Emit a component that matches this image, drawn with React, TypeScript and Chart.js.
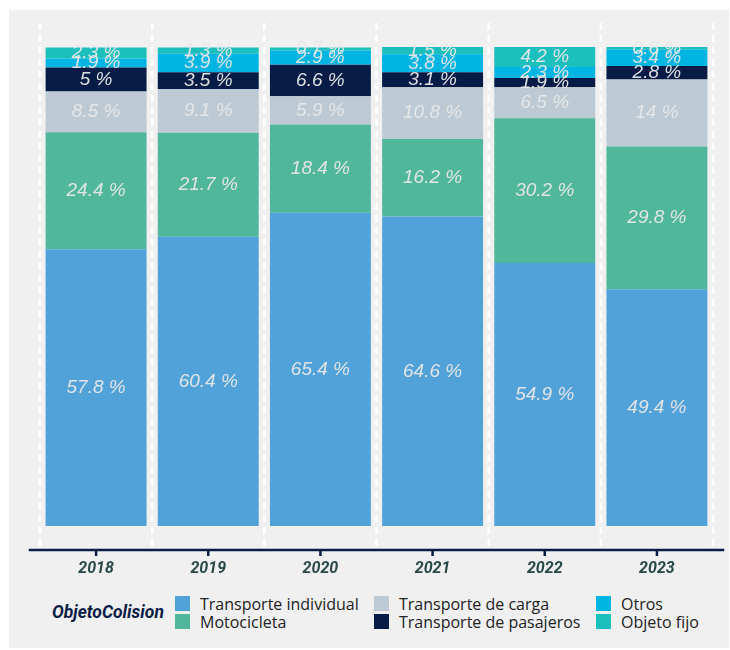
import React, { useEffect, useRef } from "react";
import { Chart, registerables } from "chart.js";

Chart.register(...registerables);

const categories = ["2018", "2019", "2020", "2021", "2022", "2023"];
const seriesNames = [
  "Transporte individual",
  "Motocicleta",
  "Transporte de carga",
  "Transporte de pasajeros",
  "Otros",
  "Objeto fijo",
];
const transporteIndividual = [57.8, 60.4, 65.4, 64.6, 54.9, 49.4];
const motocicleta = [24.4, 21.7, 18.4, 16.2, 30.2, 29.8];
const transporteCarga = [8.5, 9.1, 5.9, 10.8, 6.5, 14];
const transportePasajeros = [5, 3.5, 6.6, 3.1, 1.9, 2.8];
const otros = [1.9, 3.9, 2.9, 3.8, 2.3, 3.4];
const objetoFijo = [2.3, 1.3, 0.7, 1.5, 4.2, 0.6];
const seriesColors = ["#52a2da", "#51b79b", "#bdcad3", "#061c47", "#00b5e1", "#1bbfbc"];
const seriesValues = [transporteIndividual, motocicleta, transporteCarga, transportePasajeros, otros, objetoFijo];

const legendTitle = "ObjetoColision";
const NAVY = "#0b1c48";

const decoPlugin = {
  id: "deco",
  beforeDatasetsDraw(chart: any) {
    const { ctx, chartArea } = chart;
    const xs = chart.scales.x;
    ctx.save();
    ctx.strokeStyle = "#ffffff";
    ctx.lineWidth = 2.5;
    ctx.setLineDash([7, 5]);
    for (let i = 0; i <= categories.length; i++) {
      const x = xs.getPixelForValue(i - 0.5);
      ctx.beginPath();
      ctx.moveTo(x, chartArea.top);
      ctx.lineTo(x, chartArea.bottom);
      ctx.stroke();
    }
    ctx.restore();
  },
  afterDatasetsDraw(chart: any) {
    const { ctx, chartArea } = chart;
    const xs = chart.scales.x;
    ctx.save();
    ctx.font = "italic 19px 'Liberation Sans', Arial, sans-serif";
    ctx.fillStyle = "rgba(232,232,232,0.95)";
    ctx.textAlign = "center";
    ctx.textBaseline = "middle";
    chart.data.datasets.forEach((ds: any, di: number) => {
      const meta = chart.getDatasetMeta(di);
      meta.data.forEach((el: any, i: number) => {
        const v = ds.data[i];
        ctx.fillText(`${v} %`, el.x, (el.y + el.base) / 2);
      });
    });
    const y = chartArea.bottom;
    ctx.strokeStyle = NAVY;
    ctx.lineWidth = 2.5;
    ctx.beginPath();
    ctx.moveTo(xs.getPixelForValue(-0.6), y);
    ctx.lineTo(xs.getPixelForValue(categories.length - 0.4), y);
    ctx.stroke();
    for (let i = 0; i < categories.length; i++) {
      const x = xs.getPixelForValue(i);
      ctx.beginPath();
      ctx.moveTo(x, y);
      ctx.lineTo(x, y + 6);
      ctx.stroke();
    }
    ctx.restore();
  },
};

export default function App() {
  const ref = useRef<HTMLCanvasElement | null>(null);
  useEffect(() => {
    if (!ref.current) return;
    const chart = new Chart(ref.current, {
      type: "bar",
      data: {
        labels: categories,
        datasets: seriesNames.map((name, i) => ({
          label: name,
          data: seriesValues[i],
          backgroundColor: seriesColors[i],
          borderWidth: 0,
          barPercentage: 0.9,
          categoryPercentage: 1,
        })),
      },
      options: {
        responsive: false,
        animation: false,
        devicePixelRatio: 1,
        layout: { padding: { left: 31, right: 16, top: 13, bottom: 0 } },
        plugins: { legend: { display: false }, tooltip: { enabled: false } },
        scales: {
          x: {
            stacked: true,
            offset: true,
            grid: { display: false, drawTicks: false },
            border: { display: false },
            ticks: {
              padding: 9,
              color: "#2b4848",
              font: { family: "Roboto", size: 16, weight: "bold", style: "italic" },
            },
            afterFit: (s: any) => {
              s.height = 35;
            },
          },
          y: {
            stacked: true,
            display: false,
            min: -5,
            max: 105,
          },
        },
      },
      plugins: [decoPlugin],
    } as any);
    return () => chart.destroy();
  }, []);

  const cols = [166, 365, 587];
  return (
    <div
      style={{
        position: "absolute",
        left: 9,
        top: 10,
        width: 720,
        height: 638,
        background: "#f0f0f0",
      }}
    >
      <canvas ref={ref} width={720} height={575} style={{ display: "block" }} />
      <div
        style={{
          position: "absolute",
          left: 43,
          top: 591,
          fontFamily: "Roboto, sans-serif",
          fontWeight: "bold",
          fontStyle: "italic",
          fontSize: 17.5,
          color: NAVY,
          lineHeight: "22px",
        }}
      >
        {legendTitle}
      </div>
      {seriesNames.map((name, i) => {
        const col = Math.floor(i / 2);
        const row = i % 2;
        return (
          <div
            key={name}
            style={{
              position: "absolute",
              left: cols[col],
              top: 585 + row * 18,
              display: "flex",
              alignItems: "center",
              height: 17,
              fontFamily: "'Open Sans', sans-serif",
              fontSize: 16,
              color: "#222222",
              whiteSpace: "nowrap",
            }}
          >
            <span
              style={{
                display: "inline-block",
                width: 15,
                height: 15,
                background: seriesColors[i],
                marginRight: 10,
              }}
            />
            {name}
          </div>
        );
      })}
    </div>
  );
}
